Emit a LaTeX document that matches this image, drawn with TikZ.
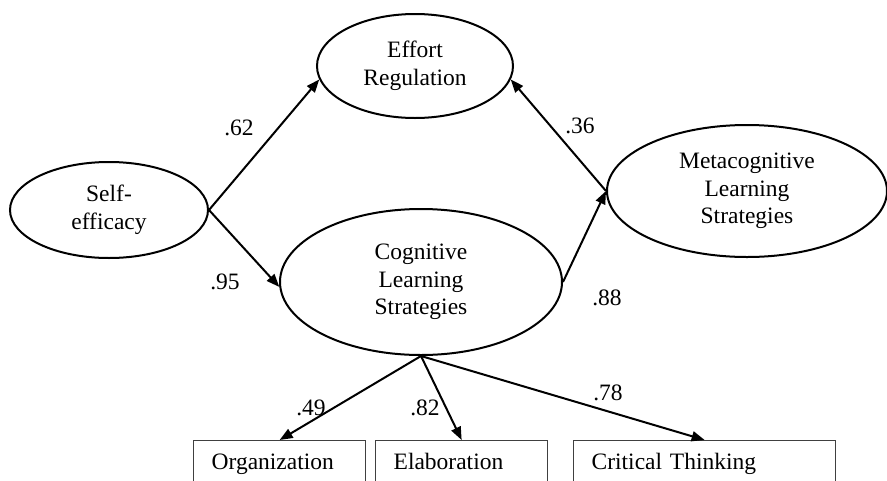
\documentclass[tikz,border=0pt]{standalone}
\usepackage{fontspec}
\setmainfont{Liberation Serif}
\usetikzlibrary{shapes.geometric,arrows.meta}
\tikzset{
  latent/.style={ellipse, draw, line width=2pt, inner sep=0pt, align=center,
    font=\fontsize{23.5}{27.5}\selectfont},
  obsbox/.style={rectangle, draw=black!75, line width=1.3pt, inner ysep=0pt, inner xsep=18pt,
    minimum height=46pt, align=left, font=\fontsize{23.5}{27.5}\selectfont},
  path/.style={line width=2pt, -{Triangle[length=13pt,width=10pt]}},
  coef/.style={font=\fontsize{23.5}{27.5}\selectfont, inner sep=0pt}
}
\begin{document}
\begin{tikzpicture}[x=1pt,y=-1pt]
\useasboundingbox (0,0) rectangle (887,480);
\clip (0,0) rectangle (887,480);
\node[latent, minimum width=198pt, minimum height=96pt] (se) at (109,210) {Self-\\efficacy};
\node[latent, minimum width=196pt, minimum height=104pt] (er) at (415,66) {Effort\\Regulation};
\node[latent, minimum width=282pt, minimum height=146pt] (cog) at (421,282) {Cognitive\\Learning\\Strategies};
\node[latent, minimum width=280pt, minimum height=132pt] (meta) at (747,191) {Metacognitive\\Learning\\Strategies};
\node[obsbox, text width=136pt, anchor=north west] (org) at (193,440) {\strut Organization};
\node[obsbox, text width=136pt, anchor=north west] (ela) at (375,440) {\strut Elaboration};
\node[obsbox, text width=226pt, anchor=north west] (crit) at (573,440) {\strut Critical Thinking};
\draw[path] (se.east) -- (er.188);
\draw[path] (se.east) -- (cog.182);
\draw[path] (cog.east) -- (meta.west);
\draw[path] (meta.west) -- (er.352);
\draw[path] (cog.south) -- (org.north);
\draw[path] (cog.south) -- (ela.north);
\draw[path] (cog.south) -- (crit.north);
\node[coef] (c62) at (239,128) {.62};
\node[coef] (c95) at (225,282) {.95};
\node[coef] (c36) at (580,126) {.36};
\node[coef] (c88) at (607,298) {.88};
\node[coef] (c49) at (311,408) {.49};
\node[coef] (c82) at (425,408) {.82};
\node[coef] (c78) at (608,393) {.78};
\end{tikzpicture}
\end{document}
